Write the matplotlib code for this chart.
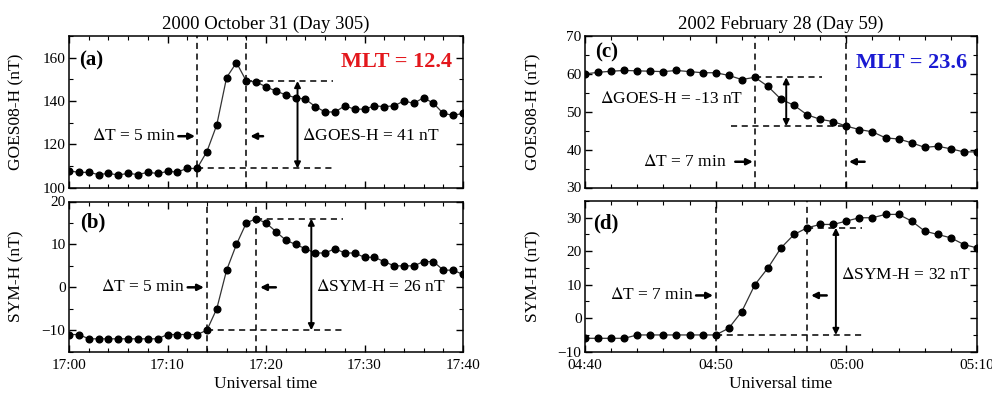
import numpy as np
import matplotlib
matplotlib.use('Agg')
import matplotlib.pyplot as plt
from matplotlib.ticker import MultipleLocator

plt.rcParams['font.family'] = ['Liberation Serif', 'DejaVu Serif']
plt.rcParams['mathtext.fontset'] = 'stix'

# 2000 October 31, 17:00 - 17:40 UT, one value per minute
goes_a = [107.7, 107.0, 107.0, 106.0, 106.5, 105.8, 106.5, 106.0, 107.0, 106.5,
          107.4, 107.2, 108.8, 108.8, 116.6, 128.9, 150.8, 157.7, 149.2, 148.8,
          146.5, 144.6, 142.8, 141.5, 140.8, 137.4, 134.9, 134.9, 137.7, 136.2,
          136.2, 137.7, 137.4, 137.7, 140.0, 138.9, 141.5, 138.9, 134.2, 133.4, 134.2]
symh_b = [-11, -11, -12, -12, -12, -12, -12, -12, -12, -12,
          -11, -11, -11, -11, -10, -5, 4, 10, 15, 16,
          15, 13, 11, 10, 9, 8, 8, 9, 8, 8,
          7, 7, 6, 5, 5, 5, 6, 6, 4, 4, 3]
ticks_ab = ['17:00', '17:10', '17:20', '17:30', '17:40']

# 2002 February 28, 04:40 - 05:10 UT
goes_c = [60.0, 60.4, 60.7, 60.9, 60.8, 60.7, 60.6, 60.9, 60.6, 60.3,
          60.3, 59.6, 58.5, 59.1, 56.7, 53.3, 51.7, 49.2, 48.0, 47.4,
          46.2, 45.3, 44.7, 43.1, 42.8, 41.8, 40.6, 40.9, 40.2, 39.4, 39.4]
symh_d = [-6, -6, -6, -6, -5, -5, -5, -5, -5, -5,
          -5, -3, 2, 10, 15, 21, 25, 27, 28, 28,
          29, 30, 30, 31, 31, 29, 26, 25, 24, 22, 21]
ticks_cd = ['04:40', '04:50', '05:00', '05:10']

# start / end minute of the jump
onset_a, end_a = 13, 18
onset_b, end_b = 14, 19
onset_c, end_c = 13, 20
onset_d, end_d = 10, 17

DASH = (0, (4, 3))


def setupAxes(ax, vals, ylim, major, minor, ylabel, xlabels):
    t = np.arange(len(vals))
    ax.plot(t, vals, '-', color='#333333', lw=0.9, marker='o', ms=4.8,
            mfc='k', mec='k', zorder=3)
    ax.set_xlim(0, len(vals) - 1)
    ax.set_ylim(*ylim)
    ax.xaxis.set_major_locator(MultipleLocator(10))
    ax.xaxis.set_minor_locator(MultipleLocator(2))
    ax.yaxis.set_major_locator(MultipleLocator(major))
    ax.yaxis.set_minor_locator(MultipleLocator(minor))
    ax.tick_params(which='both', direction='in', top=True, right=True)
    ax.tick_params(which='major', length=5, width=1)
    ax.tick_params(which='minor', length=3, width=0.8)
    ax.tick_params(axis='y', labelsize=11, pad=2.5)
    ax.tick_params(axis='x', labelsize=11, pad=5)
    if xlabels is None:
        ax.set_xticklabels([])
    else:
        ax.set_xticks(np.arange(len(xlabels)) * 10)
        ax.set_xticklabels(xlabels)
        ax.set_xlabel('Universal time', fontsize=12.5, labelpad=3)
    ax.set_ylabel(ylabel, fontsize=12.5)
    ax.yaxis.set_label_coords(-0.112, 0.5)
    for s in ax.spines.values():
        s.set_linewidth(1.1)


def markJump(ax, vals, i0, i1, xend0, xend1, xarrow):
    v0, v1 = vals[i0], vals[i1]
    ax.axvline(i0, color='k', ls=DASH, lw=1.1, zorder=2)
    ax.axvline(i1, color='k', ls=DASH, lw=1.1, zorder=2)
    ax.plot([xend0[0], xend0[1]], [v0, v0], color='k', ls=DASH, lw=1.1)
    ax.plot([xend1[0], xend1[1]], [v1, v1], color='k', ls=DASH, lw=1.1)
    ax.annotate('', xy=(xarrow, v1), xytext=(xarrow, v0),
                arrowprops=dict(arrowstyle='<|-|>', color='k', lw=1.4,
                                mutation_scale=9, shrinkA=0, shrinkB=0))


def markDt(ax, text, y, xr, xl, xtext):
    ax.annotate('', xy=(xr[1], y), xytext=(xr[0], y),
                arrowprops=dict(arrowstyle='-|>', color='k', lw=1.8,
                                mutation_scale=9, shrinkA=0, shrinkB=0))
    ax.annotate('', xy=(xl[1], y), xytext=(xl[0], y),
                arrowprops=dict(arrowstyle='-|>', color='k', lw=1.8,
                                mutation_scale=9, shrinkA=0, shrinkB=0))
    ax.text(xtext, y, text, ha='right', va='center', fontsize=12.5)


fig = plt.figure(figsize=(9.92, 3.96), dpi=100)
W, H = 992.0, 396.0
ax_a = fig.add_axes([69 / W, 1 - 187.5 / H, 394 / W, 151.5 / H])
ax_b = fig.add_axes([69 / W, 1 - 351.7 / H, 394 / W, 150.2 / H])
ax_c = fig.add_axes([585 / W, 1 - 187.5 / H, 392 / W, 151.5 / H])
ax_d = fig.add_axes([585 / W, 1 - 351.7 / H, 392 / W, 150.7 / H])

# (a)
setupAxes(ax_a, goes_a, (100, 170), 20, 10, 'GOES08-H (nT)', None)
ax_a.set_title('2000 October 31 (Day 305)', fontsize=13.5, pad=5)
markJump(ax_a, goes_a, onset_a, end_a, (onset_a, 26.8), (end_a, 26.8), 23.2)
markDt(ax_a, r'$\Delta$T = 5 min', 123.7, (11.1, 12.8), (19.7, 18.4), 10.8)
ax_a.text(23.7, 123.7, r'$\Delta$GOES-H = 41 nT', ha='left', va='center', fontsize=12.5)
ax_a.text(0.025, 0.84, '(a)', transform=ax_a.transAxes, fontsize=15,
          fontweight='bold', va='center')
ax_a.text(0.972, 0.83, 'MLT = 12.4', transform=ax_a.transAxes, fontsize=16,
          fontweight='bold', color='#e3171c', ha='right', va='center')

# (b)
setupAxes(ax_b, symh_b, (-15, 20), 10, 5, 'SYM-H (nT)', ticks_ab)
markJump(ax_b, symh_b, onset_b, end_b, (onset_b, 27.8), (end_b, 27.8), 24.6)
markDt(ax_b, r'$\Delta$T = 5 min', 0, (12.05, 13.7), (21.0, 19.4), 11.7)
ax_b.text(25.1, 0, r'$\Delta$SYM-H = 26 nT', ha='left', va='center', fontsize=12.5)
ax_b.text(0.028, 0.857, '(b)', transform=ax_b.transAxes, fontsize=15,
          fontweight='bold', va='center')

# (c)
setupAxes(ax_c, goes_c, (30, 70), 10, 5, 'GOES08-H (nT)', None)
ax_c.set_title('2002 February 28 (Day 59)', fontsize=13.5, pad=5)
markJump(ax_c, goes_c, onset_c, end_c, (onset_c, 18.1), (11.2, end_c), 15.4)
markDt(ax_c, r'$\Delta$T = 7 min', 36.8, (11.5, 12.85), (21.4, 20.2), 10.8)
ax_c.text(1.15, 53.3, r'$\Delta$GOES-H = -13 nT', ha='left', va='center', fontsize=12.5)
ax_c.text(0.025, 0.89, '(c)', transform=ax_c.transAxes, fontsize=15,
          fontweight='bold', va='center')
ax_c.text(0.974, 0.82, 'MLT = 23.6', transform=ax_c.transAxes, fontsize=16,
          fontweight='bold', color='#1a1ad2', ha='right', va='center')

# (d)
setupAxes(ax_d, symh_d, (-10, 35), 10, 5, 'SYM-H (nT)', ticks_cd)
markJump(ax_d, symh_d, onset_d, end_d, (onset_d, 21.2), (end_d, 21.2), 19.2)
markDt(ax_d, r'$\Delta$T = 7 min', 6.8, (8.5, 9.8), (18.5, 17.3), 8.3)
ax_d.text(19.6, 12.8, r'$\Delta$SYM-H = 32 nT', ha='left', va='center', fontsize=12.5)
ax_d.text(0.02, 0.85, '(d)', transform=ax_d.transAxes, fontsize=15,
          fontweight='bold', va='center')

fig.savefig('out.png', dpi=100)
